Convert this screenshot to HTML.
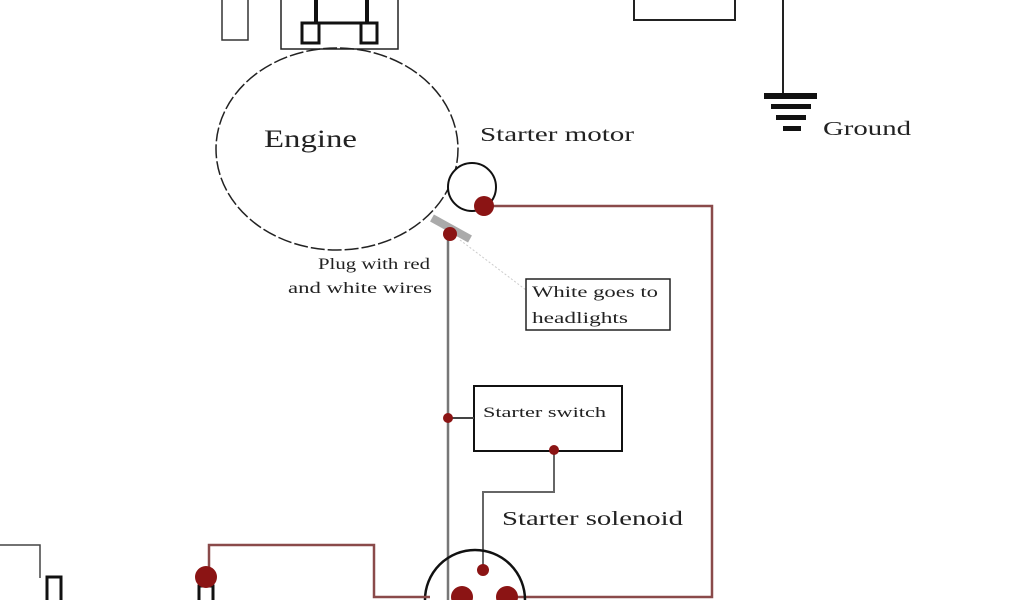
<!DOCTYPE html>
<html><head><style>body{margin:0;background:#fff}svg{display:block}text{font-family:"Liberation Serif",serif;fill:#222}</style></head><body>
<svg width="1024" height="600" viewBox="0 0 1024 600">
<rect x="222" y="-2" width="26" height="42" fill="none" stroke="#333" stroke-width="1.5"/>
<rect x="281" y="-2" width="117" height="51" fill="none" stroke="#222" stroke-width="1.5"/>
<line x1="316" y1="0" x2="316" y2="24" stroke="#111" stroke-width="4"/>
<line x1="367" y1="0" x2="367" y2="24" stroke="#111" stroke-width="4"/>
<line x1="316" y1="23" x2="367" y2="23" stroke="#111" stroke-width="3"/>
<rect x="302" y="23" width="17" height="20" fill="none" stroke="#111" stroke-width="3"/>
<rect x="361" y="23" width="16" height="20" fill="none" stroke="#111" stroke-width="3"/>
<ellipse cx="337" cy="149" rx="121" ry="101" fill="none" stroke="#222" stroke-width="1.5" stroke-dasharray="14 3"/>
<text x="264" y="147" font-size="25" textLength="93" lengthAdjust="spacingAndGlyphs">Engine</text>
<text x="480" y="141" font-size="20" textLength="154" lengthAdjust="spacingAndGlyphs">Starter motor</text>
<circle cx="472" cy="187" r="24" fill="#fff" stroke="#111" stroke-width="2"/>
<rect x="634" y="-2" width="101" height="22" fill="none" stroke="#222" stroke-width="2"/>
<line x1="783" y1="0" x2="783" y2="94" stroke="#222" stroke-width="2"/>
<rect x="764" y="93" width="53" height="6" fill="#111"/>
<rect x="771" y="104" width="40" height="5" fill="#111"/>
<rect x="776" y="115" width="30" height="5" fill="#111"/>
<rect x="783" y="126" width="18" height="5" fill="#111"/>
<text x="823" y="135" font-size="20" textLength="88" lengthAdjust="spacingAndGlyphs">Ground</text>
<polyline points="484,206 712,206 712,597 510,597" fill="none" stroke="#8a4a4a" stroke-width="2.5"/>
<line x1="432" y1="218" x2="470" y2="239" stroke="#aaa" stroke-width="8"/>
<line x1="460" y1="240" x2="526" y2="290" stroke="#ccc" stroke-width="1" stroke-dasharray="2 2"/>
<line x1="448" y1="234" x2="448" y2="600" stroke="#777" stroke-width="2.5"/>
<text x="318" y="269" font-size="16" textLength="112" lengthAdjust="spacingAndGlyphs">Plug with red</text>
<text x="288" y="293" font-size="16" textLength="144" lengthAdjust="spacingAndGlyphs">and white wires</text>
<rect x="526" y="279" width="144" height="51" fill="none" stroke="#222" stroke-width="1.5"/>
<text x="532" y="297" font-size="16" textLength="126" lengthAdjust="spacingAndGlyphs">White goes to</text>
<text x="532" y="323" font-size="16" textLength="96" lengthAdjust="spacingAndGlyphs">headlights</text>
<rect x="474" y="386" width="148" height="65" fill="none" stroke="#111" stroke-width="2"/>
<line x1="448" y1="418" x2="474" y2="418" stroke="#444" stroke-width="2"/>
<text x="483" y="417" font-size="15" textLength="123" lengthAdjust="spacingAndGlyphs">Starter switch</text>
<polyline points="554,450 554,492 483,492 483,570" fill="none" stroke="#666" stroke-width="2"/>
<text x="502" y="525" font-size="20" textLength="181" lengthAdjust="spacingAndGlyphs">Starter solenoid</text>
<path d="M425,600 A50,50 0 0 1 525,600" fill="none" stroke="#111" stroke-width="2.5"/>
<polyline points="209,570 209,545 374,545 374,597 430,597" fill="none" stroke="#8a4a4a" stroke-width="2.5"/>
<polyline points="0,545 40,545 40,578" fill="none" stroke="#444" stroke-width="1.5"/>
<rect x="47" y="577" width="14" height="26" fill="none" stroke="#111" stroke-width="3"/>
<rect x="199" y="586" width="14" height="20" fill="none" stroke="#111" stroke-width="3"/>
<g fill="#8b1414">
<circle cx="484" cy="206" r="10"/><circle cx="450" cy="234" r="7"/>
<circle cx="448" cy="418" r="5"/><circle cx="554" cy="450" r="5"/>
<circle cx="483" cy="570" r="6"/><circle cx="206" cy="577" r="11"/>
<circle cx="462" cy="597" r="11"/><circle cx="507" cy="597" r="11"/>
</g>
</svg>
</body></html>
